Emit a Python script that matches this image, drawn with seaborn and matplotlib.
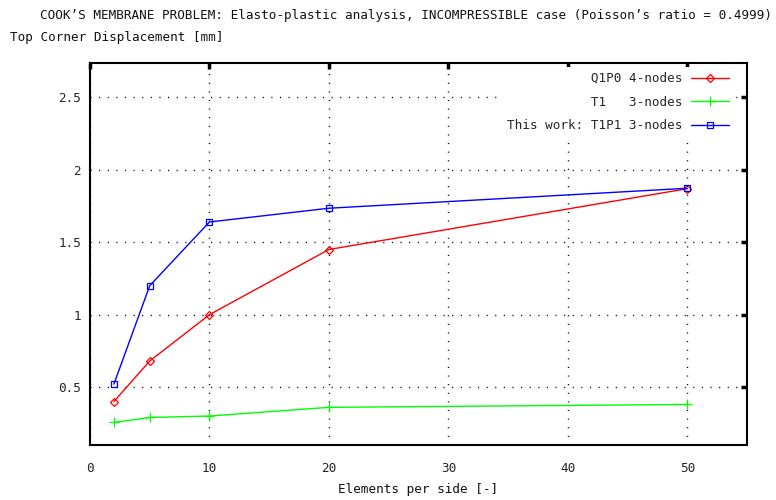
import matplotlib
matplotlib.use("Agg")
import matplotlib.pyplot as plt
import seaborn as sns
import pandas as pd

elements = [2, 5, 10, 20, 50]
q1p0 = [0.40, 0.68, 1.00, 1.45, 1.87]
t1 = [0.256, 0.29, 0.30, 0.36, 0.38]
t1p1 = [0.52, 1.20, 1.64, 1.735, 1.873]

series_labels = ["Q1P0 4-nodes", "T1   3-nodes", "This work: T1P1 3-nodes"]
x_ticks = [0, 10, 20, 30, 40, 50]
y_ticks = [0.5, 1.0, 1.5, 2.0, 2.5]
y_tick_labels = ["0.5", "1", "1.5", "2", "2.5"]

title = "COOK\u2019S MEMBRANE PROBLEM: Elasto-plastic analysis, INCOMPRESSIBLE case (Poisson\u2019s ratio = 0.4999)"
ylabel = "Top Corner Displacement [mm]"
xlabel = "Elements per side [-]"

sns.set_style("white")
plt.rcParams['font.family'] = ['DejaVu Sans Mono', 'DejaVu Sans']
FS = 9.05

fig = plt.figure(figsize=(7.76, 5.0), dpi=100)
ax = fig.add_axes([90/776, 1-445/500, (747-90)/776, (445-62.7)/500])

width = max(len(s) for s in series_labels)
padded = [s.rjust(width) for s in series_labels]

specs = [
    (q1p0, "#ff0000", "D", 4, padded[0]),
    (t1, "#00ff00", "+", 6.5, padded[1]),
    (t1p1, "#0000ff", "s", 5, padded[2]),
]
for vals, col, mk, ms, lab in specs:
    df = pd.DataFrame({"x": elements, "y": vals})
    sns.lineplot(data=df, x="x", y="y", ax=ax, color=col, marker=mk,
                 markersize=ms, markerfacecolor="none" if mk != "+" else col,
                 markeredgecolor=col, markeredgewidth=0.9, linewidth=1.0,
                 label=lab)

ax.set_xlim(0, 55)
ax.set_ylim(0.1, 2.74)
ax.set_xticks(x_ticks)
ax.set_xticklabels([str(v) for v in x_ticks])
ax.set_yticks(y_ticks)
ax.set_yticklabels(y_tick_labels)
ax.set_xlabel("")
ax.set_ylabel("")

ax.grid(True, color="black", linestyle=(0, (0.8, 5.4)), linewidth=1.0)
ax.set_axisbelow(True)
for sp in ax.spines.values():
    sp.set_color("black")
    sp.set_linewidth(1.5)
ax.tick_params(axis="both", direction="in", length=4, width=2.5, colors="black",
               top=True, right=True, labelsize=FS)
ax.tick_params(axis="x", pad=12.3)
ax.tick_params(axis="y", pad=6.5)
for t in ax.get_xticklabels() + ax.get_yticklabels():
    t.set_color("#222222")

leg = ax.legend(loc="upper right", bbox_to_anchor=(734/776, 1-67/500),
                bbox_transform=fig.transFigure, markerfirst=False,
                frameon=True, facecolor="white", edgecolor="none", framealpha=1,
                fancybox=False, borderpad=0.4, borderaxespad=0,
                handlelength=3.0, handletextpad=0.7, labelspacing=0.85,
                prop={"family": "DejaVu Sans Mono", "size": FS})
leg.get_frame().set_linewidth(0)

fig.text(406/776, 1-15/500, title, ha="center", va="center", fontsize=FS, color="#111111")
fig.text(10/776, 1-38/500, ylabel, ha="left", va="center", fontsize=FS, color="#111111")
fig.text(418/776, 1-489/500, xlabel, ha="center", va="center", fontsize=FS, color="#111111")

fig.savefig("out.png", dpi=100)
